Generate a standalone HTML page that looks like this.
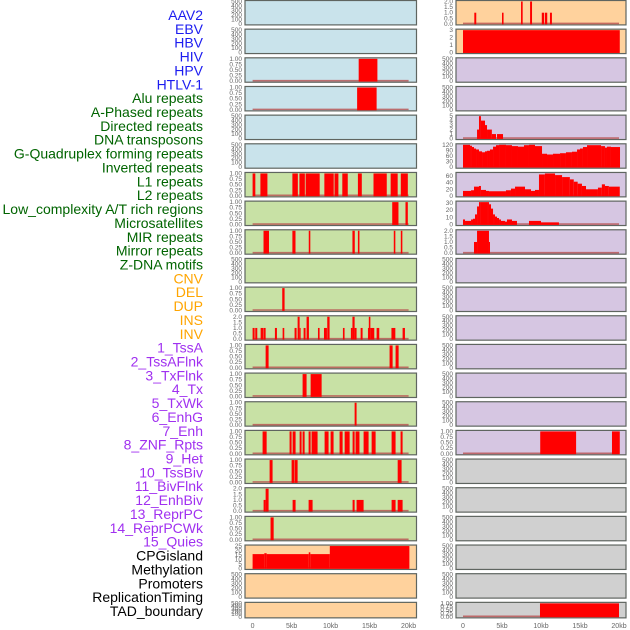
<!DOCTYPE html>
<html><head><meta charset="utf-8"><style>
html,body{margin:0;padding:0;background:#fff;}
svg{display:block;font-family:"Liberation Sans",sans-serif;}
</style></head><body>
<svg id="chart" width="630" height="630" viewBox="0 0 630 630"></svg>
<script>
// ---- labels ----
const labelNames = ["AAV2","EBV","HBV","HIV","HPV","HTLV-1","Alu repeats","A-Phased repeats","Directed repeats","DNA transposons","G-Quadruplex forming repeats","Inverted repeats","L1 repeats","L2 repeats","Low_complexity A/T rich regions","Microsatellites","MIR repeats","Mirror repeats","Z-DNA motifs","CNV","DEL","DUP","INS","INV","1_TssA","2_TssAFlnk","3_TxFlnk","4_Tx","5_TxWk","6_EnhG","7_Enh","8_ZNF_Rpts","9_Het","10_TssBiv","11_BivFlnk","12_EnhBiv","13_ReprPC","14_ReprPCWk","15_Quies","CPGisland","Methylation","Promoters","ReplicationTiming","TAD_boundary"];
const labelGroups = [0,0,0,0,0,0,1,1,1,1,1,1,1,1,1,1,1,1,1,2,2,2,2,2,3,3,3,3,3,3,3,3,3,3,3,3,3,3,3,4,4,4,4,4];
const groupColors = ["#1c1cf0","#006400","#ffa500","#a030f0","#000000"];

// ---- x axis ----
const xTicks = [0,5,10,15,20];
const xTickLabels = ["0","5kb","10kb","15kb","20kb"];

// ---- left column panels ----
const leftBg = ["b","b","b","b","b","b","g","g","g","g","g","g","g","g","g","g","g","g","g","p","p","p"];
const leftMax = [500,500,1,1,500,500,1,1,1,500,1,2,1,1,1,1,1,2,1,25,500,500];
const leftTicks = [[0,100,200,300,400,500],[0,100,200,300,400,500],[0,0.25,0.5,0.75,1],[0,0.25,0.5,0.75,1],[0,100,200,300,400,500],[0,100,200,300,400,500],[0,0.25,0.5,0.75,1],[0,0.25,0.5,0.75,1],[0,0.25,0.5,0.75,1],[0,100,200,300,400,500],[0,0.25,0.5,0.75,1],[0,0.5,1,1.5,2],[0,0.25,0.5,0.75,1],[0,0.25,0.5,0.75,1],[0,0.25,0.5,0.75,1],[0,0.25,0.5,0.75,1],[0,0.25,0.5,0.75,1],[0,0.5,1,1.5,2],[0,0.25,0.5,0.75,1],[0,5,10,15,20,25],[0,100,200,300,400,500],[0,100,200,300,400,500]];
const leftHIV = [[13.6,16.0,1]];
const leftHPV = [[13.4,15.9,1]];
const leftL1 = [[0,0.35,1],[1.0,1.9,1],[5.1,5.8,1],[6.0,6.7,1],[6.8,8.6,1],[9.2,10.4,1],[10.5,11.0,1],[11.5,12.2,1],[13.5,14.0,1],[15.5,17.2,1],[17.7,18.6,1],[19.0,19.9,1]];
const leftL2 = [[17.9,18.7,1],[19.6,19.9,1]];
const leftMIR = [[1.4,2.1,1],[5.1,5.5,1],[7.2,7.4,1],[12.8,13.1,1],[13.5,13.7,1],[18.1,18.3,1],[19.0,19.2,1]];
const leftDEL = [[3.8,4.1,1]];
const leftINS = [[0,0.26,1],[0.34,0.6,1],[1.03,1.37,1],[1.41,1.67,1],[2.86,3.12,1],[3.85,4.06,1],[5.38,5.64,1],[5.77,6.03,2],[6.03,6.15,1],[6.54,6.79,1],[6.92,7.22,2],[8.38,8.59,1],[9.15,9.53,1],[9.57,9.87,2],[11.58,11.79,1],[12.6,12.8,1],[12.8,13.08,2],[13.08,13.33,1],[13.85,14.1,1],[14.79,14.9,1],[14.9,15.1,2],[15.1,15.6,1],[15.9,16.24,1],[17.8,18.3,1],[19.23,19.53,1]];
const leftTssA = [[1.67,2.05,1],[17.56,17.95,1],[18.33,18.72,1]];
const leftTxFlnk = [[6.41,6.92,1],[7.44,8.85,1]];
const leftTxWk = [[13.08,13.33,1]];
const leftEnh = [[1.28,1.8,1],[4.74,5.0,1],[5.13,5.51,1],[6.03,6.28,1],[6.41,6.67,1],[7.18,7.44,1],[7.56,8.33,1],[9.23,9.74,1],[10.0,10.38,1],[11.15,11.54,1],[11.8,12.44,1],[12.82,13.08,1],[13.2,13.7,1],[14.23,14.87,1],[15.26,15.77,1],[17.82,18.33,1],[18.97,19.23,1]];
const leftHet = [[2.18,2.56,1],[5.0,5.38,1],[5.43,5.77,1],[18.6,19.1,1]];
const leftBiv = [[1.41,1.67,1],[1.67,2.05,2],[5.13,5.51,1],[7.18,7.69,1],[12.82,13.08,1],[13.33,14.23,1],[17.82,18.33,1],[18.6,19.23,1]];
const leftRepr = [[2.3,2.7,1]];
const leftCpg = [[0,1.5,16],[1.5,1.8,17],[1.8,7.2,16],[7.2,7.4,18],[7.4,9.9,16],[9.9,20.1,27]];
const leftSeries = [null,null,leftHIV,leftHPV,null,null,leftL1,leftL2,leftMIR,null,leftDEL,leftINS,leftTssA,leftTxFlnk,leftTxWk,leftEnh,leftHet,leftBiv,leftRepr,leftCpg,null,null];

// ---- right column panels ----
const rightBg = ["p","p","l","l","l","l","l","l","l","l","l","l","l","l","l","l","y","y","y","y","y","y"];
const rightMax = [2,3,500,500,5,120,68,31,2,500,500,500,500,500,500,1,500,500,500,500,500,1];
const rightTicks = [[0,0.5,1,1.5,2],[0,1,2,3],[0,100,200,300,400,500],[0,100,200,300,400,500],[0,1,2,3,4,5],[0,30,60,90,120],[0,20,40,60],[0,10,20,30],[0,0.5,1,1.5,2],[0,100,200,300,400,500],[0,100,200,300,400,500],[0,100,200,300,400,500],[0,100,200,300,400,500],[0,100,200,300,400,500],[0,100,200,300,400,500],[0,0.25,0.5,0.75,1],[0,100,200,300,400,500],[0,100,200,300,400,500],[0,100,200,300,400,500],[0,100,200,300,400,500],[0,100,200,300,400,500],[0,0.25,0.5,0.75,1]];
const rightAAV = [[1.45,1.7,1],[5.0,5.2,1],[7.44,7.65,2],[8.6,8.85,2],[10.1,10.4,1],[10.5,10.8,1],[11.15,11.4,1]];
const rightEBV = [[0,20.1,3]];
const rightDir = [[1.8,2.05,2],[2.05,2.3,5],[2.3,2.82,4],[2.82,3.08,3],[3.08,3.7,2],[3.7,4.23,1],[4.36,5.13,1]];
const rightGQ = [[0,0.9,120],[0.9,1.15,115],[1.15,1.41,108],[1.41,1.67,100],[1.67,2.05,95],[2.05,2.44,85],[2.44,2.82,80],[2.82,3.08,85],[3.08,3.46,88],[3.46,3.85,95],[3.85,4.23,110],[4.23,4.62,118],[4.62,5.51,120],[5.51,6.28,118],[6.28,7.05,113],[7.05,7.82,110],[7.82,8.46,118],[8.46,9.23,120],[9.23,10.13,113],[10.13,10.77,72],[10.77,11.54,68],[11.54,12.44,72],[12.44,13.2,75],[13.2,13.97,80],[13.97,14.62,83],[14.62,15.0,95],[15.0,15.38,100],[15.38,15.9,108],[15.9,17.7,118],[17.7,18.2,113],[18.2,18.46,105],[18.46,18.97,110],[18.97,20.13,108]];
const rightL1 = [[0,1.03,15],[1.03,1.41,17],[1.41,2.05,28],[2.05,2.3,30],[2.3,2.95,18],[2.95,3.33,15],[3.33,5.51,14],[5.51,6.15,17],[6.15,6.67,22],[6.67,7.95,28],[7.95,8.72,20],[8.72,9.23,15],[9.23,9.74,18],[9.74,10.5,65],[10.5,11.8,68],[11.8,12.7,63],[12.7,13.7,57],[13.7,14.2,50],[14.2,14.7,43],[14.7,15.25,37],[15.25,15.77,30],[15.77,17.3,20],[17.3,17.8,25],[17.8,18.2,35],[18.2,18.7,30],[18.7,20.1,28]];
const rightLow = [[0,0.26,7],[0.26,1.03,5],[1.03,1.28,7],[1.28,1.54,8],[1.54,1.8,14],[1.8,2.05,25],[2.05,2.3,33],[2.3,3.08,35],[3.08,3.33,32],[3.33,3.59,28],[3.59,3.85,22],[3.85,4.1,14],[4.1,4.36,11],[4.36,4.62,9],[4.62,4.87,7],[4.87,5.38,5],[5.38,5.64,4],[5.64,6.28,7],[6.28,6.92,5],[8.46,10.0,5],[10.0,12.3,3]];
const rightMirror = [[1.41,1.8,1],[1.8,3.33,2],[3.33,3.46,1]];
const rightTssBiv = [[9.9,14.5,1],[19.1,20.1,1]];
const rightTAD = [[9.87,20.0,1]];
const rightSeries = [rightAAV,rightEBV,null,null,rightDir,rightGQ,rightL1,rightLow,rightMirror,null,null,null,null,null,null,rightTssBiv,null,null,null,null,null,rightTAD];

// ---- rendering ----
const NS = "http://www.w3.org/2000/svg";
const svg = document.getElementById("chart");
const bgColors = {b:"#c9e3eb",g:"#c8e1a5",p:"#ffd29d",l:"#d6c6e2",y:"#d0d0d0"};
const PITCH = 28.66, PH = 24.4;
function mk(tag, attrs){ const e=document.createElementNS(NS,tag); for(const k in attrs) e.setAttribute(k,attrs[k]); svg.appendChild(e); return e; }
function fmt(v, ticks){
  const step = ticks[1]-ticks[0];
  if (step===0.25) return v.toFixed(2);
  if (step===0.5) return v.toFixed(1);
  return String(v);
}

labelNames.forEach((n,i)=>{
  const t = mk("text",{x:203,y:15+i*13.86+5,"text-anchor":"end","font-size":14,fill:groupColors[labelGroups[i]]});
  t.textContent = n;
  
  
});

function drawColumn(x0, x1, zeroX, pxPerKb, bgs, maxes, ticks, series, side){
  const xs = kb => zeroX + kb*pxPerKb;
  for (let i=0;i<bgs.length;i++){
    const top = i*PITCH + 0.5;
    const h = (i===bgs.length-1) ? 15.5 : PH;
    const bot = top + h;
    const ys = v => bot - 1 - Math.min(v/maxes[i],1.0)*(h-2);
    const rect = mk("rect",{x:x0,y:top,width:x1-x0,height:h,fill:bgColors[bgs[i]],stroke:"#5f6560","stroke-width":1.2});
    
    
    ticks[i].forEach(v=>{
      const tt = mk("text",{x:x0-3,y:ys(v)+2,"text-anchor":"end","font-size":6.5,fill:"#666"});
      tt.textContent = fmt(v,ticks[i]);
      
      
    });
    const s = series[i];
    if (s){
      const ln = mk("line",{x1:xs(0),x2:xs(20),y1:bot-1.5,y2:bot-1.5,stroke:"#b85050","stroke-width":1.6,"stroke-opacity":0.8});
      
      
      s.forEach(seg=>{
        const y = Math.max(ys(seg[2]), top+0.6);
        const b = mk("rect",{x:xs(seg[0]),y:y,width:Math.max(xs(seg[1])-xs(seg[0]),1),height:bot-0.6-y,fill:"#ff0000"});
        
        
      });
    }
  }
  xTicks.forEach((v,k)=>{
    const t = mk("text",{x:xs(v),y:628,"text-anchor":"middle","font-size":7,fill:"#666"});
    t.textContent = xTickLabels[k];
    
    
  });
}
drawColumn(245, 416.5, 252.6, 7.8, leftBg, leftMax, leftTicks, leftSeries, "left");
drawColumn(456, 626, 463, 7.8, rightBg, rightMax, rightTicks, rightSeries, "right");
</script>
</body></html>
